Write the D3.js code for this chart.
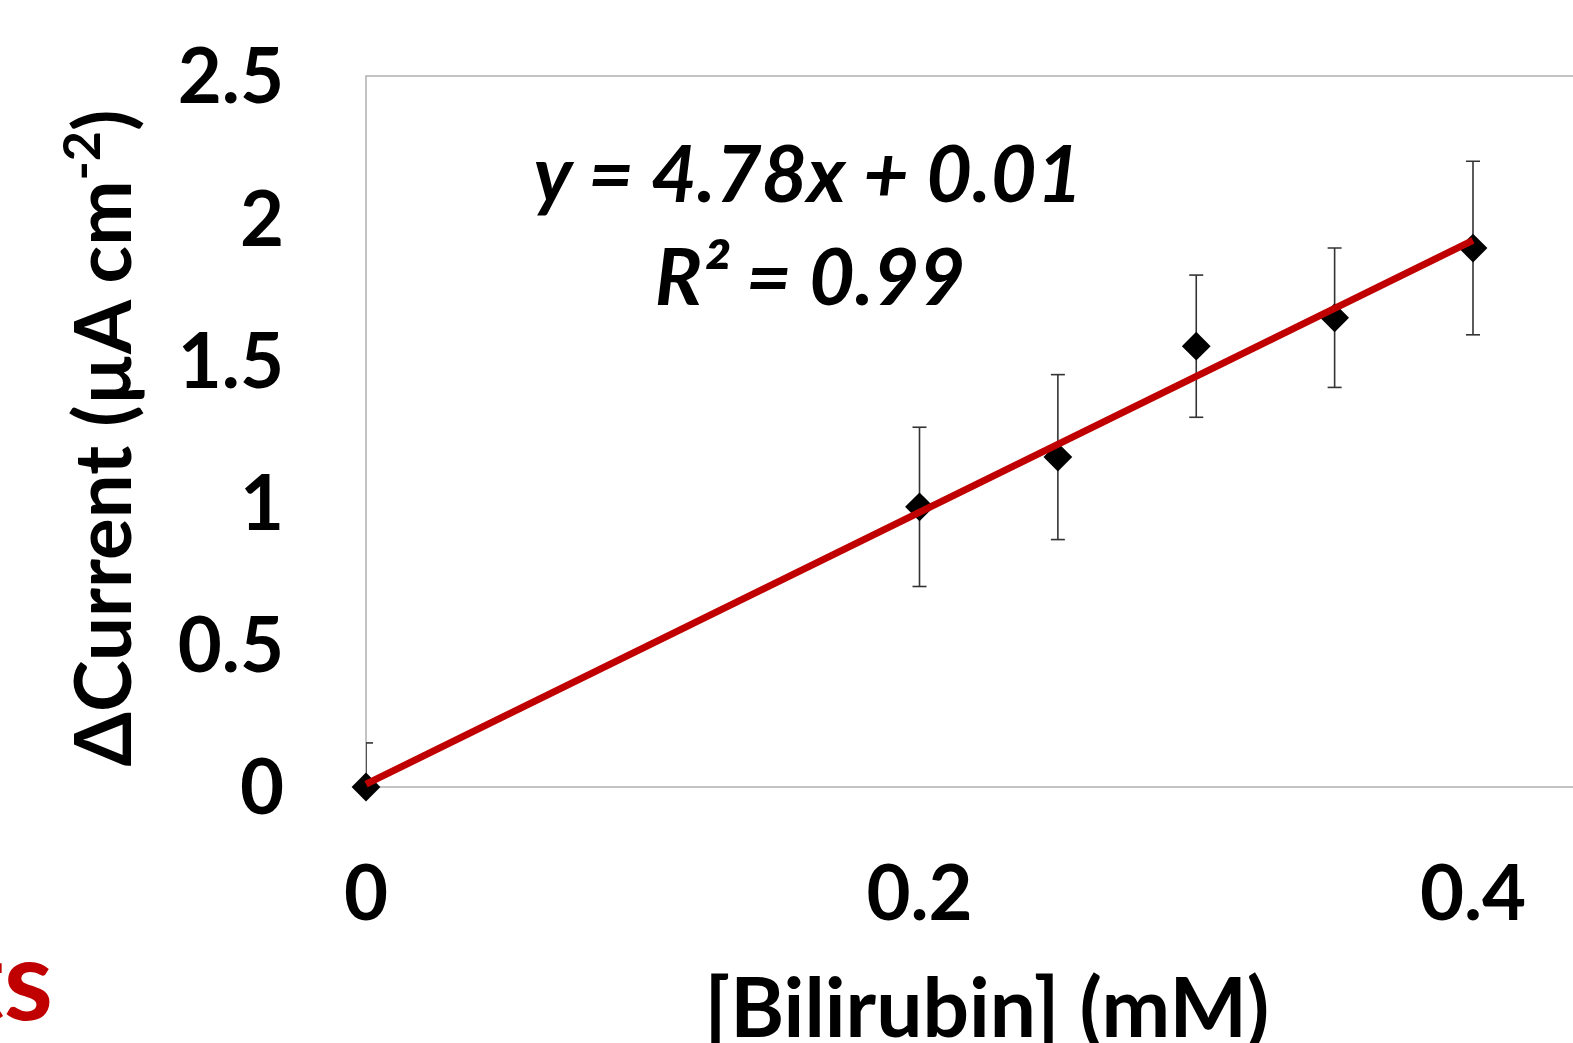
<!DOCTYPE html>
<html>
<head>
<meta charset="utf-8">
<script src="https://cdn.jsdelivr.net/npm/d3@7"></script>
<style>
  html, body { margin: 0; padding: 0; background: #fff; overflow: hidden; }
  text { font-family: Lato, 'Open Sans', sans-serif; font-weight: 700; }
</style>
</head>
<body>
<div id="chart"></div>
<script>
const width = 1573;
const height = 1043;

// data
const concentrations = [0, 0.2, 0.25, 0.3, 0.35, 0.4];
const currents = [0, 0.985, 1.16, 1.55, 1.65, 1.895];
const errors = [0.155, 0.28, 0.29, 0.25, 0.245, 0.305];
const xTicks = [0, 0.2, 0.4];
const yTicks = [0, 0.5, 1, 1.5, 2, 2.5];
const slope = 4.78;
const intercept = 0.01;
const equationText = 'y = 4.78x + 0.01';
const r2Text = 'R² = 0.99';

const svg = d3
  .select('#chart')
  .append('svg')
  .attr('width', width)
  .attr('height', height);

// scales (plot area runs past the right edge of the picture)
const x = d3.scaleLinear().domain([0, 0.4]).range([366, 1473]);
const y = d3.scaleLinear().domain([0, 2.5]).range([787, 76]);
const xEnd = x(0.45);

svg
  .append('clipPath')
  .attr('id', 'plot-clip')
  .append('rect')
  .attr('x', x(0))
  .attr('y', y(2.5))
  .attr('width', xEnd - x(0))
  .attr('height', y(0) - y(2.5));

// plot frame
svg
  .append('rect')
  .attr('x', x(0))
  .attr('y', y(2.5))
  .attr('width', xEnd - x(0))
  .attr('height', y(0) - y(2.5))
  .attr('fill', 'none')
  .attr('stroke', '#b0b0b0')
  .attr('stroke-width', 1.5);

// y tick labels
svg
  .append('g')
  .selectAll('text')
  .data(yTicks)
  .join('text')
  .attr('x', 284)
  .attr('y', (d) => y(d))
  .attr('dy', '0.36em')
  .attr('text-anchor', 'end')
  .attr('font-size', 76)
  .attr('fill', '#000')
  .text((d) => d);

// x tick labels
svg
  .append('g')
  .selectAll('text')
  .data(xTicks)
  .join('text')
  .attr('x', (d) => x(d))
  .attr('y', 920)
  .attr('text-anchor', 'middle')
  .attr('font-size', 76)
  .attr('fill', '#000')
  .text((d) => d);

// axis titles
const yTitle = svg
  .append('text')
  .attr('transform', 'translate(131,438) rotate(-90)')
  .attr('text-anchor', 'middle')
  .attr('font-size', 78)
  .attr('fill', '#000');
yTitle.append('tspan').text('ΔCurrent (µA cm');
yTitle.append('tspan').attr('font-size', 52).attr('dy', -31).text('-2');
yTitle.append('tspan').attr('dy', 31).text(')');

svg
  .append('text')
  .attr('x', 987)
  .attr('y', 1037)
  .attr('text-anchor', 'middle')
  .attr('font-size', 82)
  .attr('fill', '#000')
  .text('[Bilirubin] (mM)');

const plot = svg.append('g').attr('clip-path', 'url(#plot-clip)');

// error bars
const points = concentrations.map((c, i) => ({
  x: c,
  y: currents[i],
  e: errors[i],
}));

const bars = plot.append('g').attr('stroke', '#333').attr('stroke-width', 1.6);
bars
  .selectAll('line.stem')
  .data(points)
  .join('line')
  .attr('class', 'stem')
  .attr('x1', (d) => x(d.x))
  .attr('x2', (d) => x(d.x))
  .attr('y1', (d) => y(d.y - d.e))
  .attr('y2', (d) => y(d.y + d.e));
bars
  .selectAll('line.cap-top')
  .data(points)
  .join('line')
  .attr('class', 'cap-top')
  .attr('x1', (d) => x(d.x) - 7)
  .attr('x2', (d) => x(d.x) + 7)
  .attr('y1', (d) => y(d.y + d.e))
  .attr('y2', (d) => y(d.y + d.e));
bars
  .selectAll('line.cap-bottom')
  .data(points)
  .join('line')
  .attr('class', 'cap-bottom')
  .attr('x1', (d) => x(d.x) - 7)
  .attr('x2', (d) => x(d.x) + 7)
  .attr('y1', (d) => y(d.y - d.e))
  .attr('y2', (d) => y(d.y - d.e));

// markers (diamonds), drawn unclipped so the one on the axis shows fully
const diamond = d3.symbol().type(d3.symbolDiamond2).size(290);
svg
  .append('g')
  .selectAll('path')
  .data(points)
  .join('path')
  .attr('transform', (d) => `translate(${x(d.x)},${y(d.y)}) scale(1.35)`)
  .attr('d', diamond)
  .attr('fill', '#000');

// linear trend line
const fitX = d3.extent(concentrations);
svg
  .append('line')
  .attr('x1', x(fitX[0]))
  .attr('y1', y(slope * fitX[0] + intercept))
  .attr('x2', x(fitX[1]))
  .attr('y2', y(slope * fitX[1] + intercept))
  .attr('stroke', '#c00000')
  .attr('stroke-width', 7)
  .attr('stroke-linecap', 'butt');

// equation
svg
  .append('text')
  .attr('x', 808)
  .attr('y', 202)
  .attr('text-anchor', 'middle')
  .attr('font-size', 79)
  .attr('font-style', 'italic')
  .attr('fill', '#000')
  .text(equationText);

svg
  .append('text')
  .attr('x', 810)
  .attr('y', 305)
  .attr('text-anchor', 'middle')
  .attr('font-size', 79)
  .attr('font-style', 'italic')
  .attr('fill', '#000')
  .text(r2Text);

// cut-off word from the neighbouring panel
svg
  .append('text')
  .attr('x', 53)
  .attr('y', 1020)
  .attr('text-anchor', 'end')
  .attr('font-size', 112)
  .attr('fill', '#c00000')
  .text('ts');
</script>
</body>
</html>
